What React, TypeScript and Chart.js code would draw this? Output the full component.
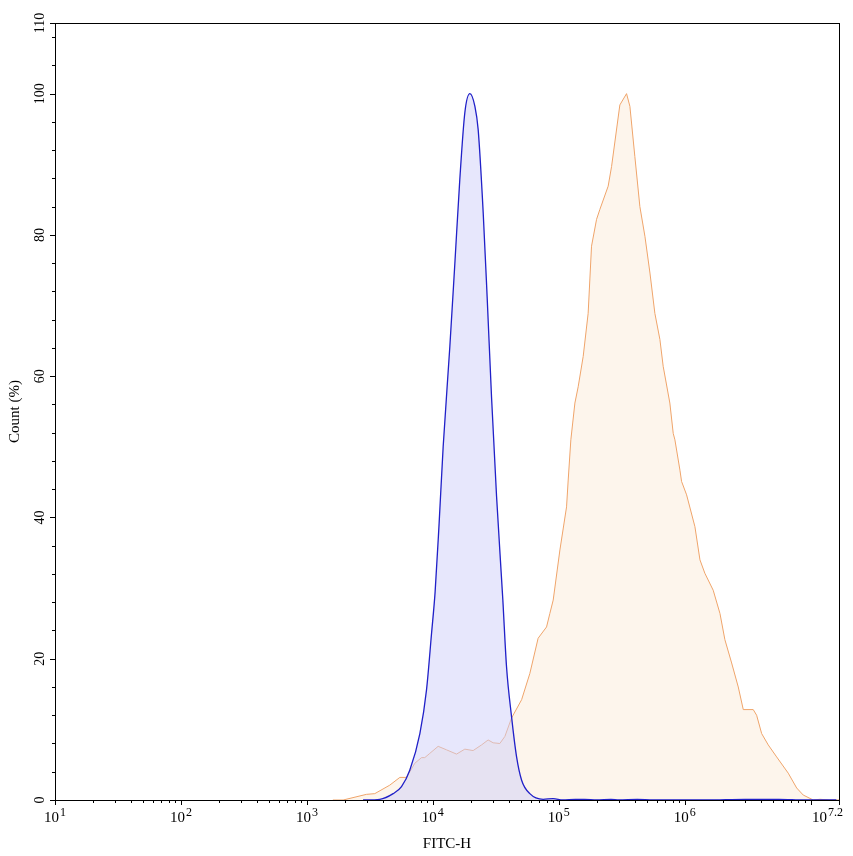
import React, { useEffect, useRef } from 'react';
import { Chart, ChartConfiguration, Plugin, registerables } from 'chart.js';

Chart.register(...registerables);

// FITC-H channel values (linear units) and count (%)
const blueX = [
  2793, 3793, 4840, 5640, 6560, 7890, 8910, 9770, 10430, 11220, 12080, 13650,
  14960, 16370, 17950, 19680, 21580, 22910, 25120, 26980, 29240, 32060, 35970,
  38460, 42170, 46240, 50700, 58900, 75160, 90300, 107900, 135000, 160000,
  200000, 260000, 300000, 420000, 560000, 800000, 1500000, 3000000, 3800000,
  4600000, 5600000, 9000000, 16000000,
];
const blueY = [
  0, 0.1, 0.9, 1.9, 4.2, 9.4, 15.6, 23.6, 29.5, 39.2, 50, 64.2,
  76, 87.8, 97.3, 100, 98.2, 94.9, 83.1, 71.3, 57.1, 43, 28.3,
  18.9, 11.8, 6.1, 2.8, 0.9, 0.1, 0.2, 0, 0.1, 0.1,
  0, 0.1, 0, 0.1, 0, 0, 0, 0.1, 0.1,
  0.1, 0.1, 0, 0,
];

const orangeX = [
  1607, 1940, 2972, 3460, 4550, 5470, 6180, 7190, 8130, 8630, 9460, 11020,
  12850, 15420, 17950, 20890, 24380, 27480, 30130, 34040, 37330, 42170, 50700,
  58900, 68550, 79980, 84920, 90300, 102100, 115300, 118800, 124700, 134300,
  142600, 156300, 171100, 182000, 199500, 211900, 246700, 262600, 305500,
  345300, 367000, 401800, 440600, 483100, 529700, 579400, 635300, 674500,
  762100, 810500, 835700, 916200, 944100, 1035000, 1205000, 1321000, 1445000,
  1683000, 1905000, 2084000, 2358000, 2661000, 2917000, 3499000, 3724000,
  4083000, 4603000, 5370000, 6637000, 7745000, 8730000, 10490000, 11860000,
  14220000, 16790000,
];
const orangeY = [
  0, 0, 0.8, 0.9, 2.1, 3.2, 3.2, 5.2, 6, 6, 6.6, 7.6,
  7.1, 6.5, 7.2, 7, 7.8, 8.5, 8.1, 8, 9, 11.6, 14.2,
  17.9, 22.9, 24.5, 26.4, 28.3, 35.4, 41.5, 45.3, 51, 56.2,
  58.5, 62.8, 68.9, 78.4, 82.2, 83.6, 86.9, 89.7, 98.4,
  100, 98.2, 91.1, 84, 79.8, 74.6, 68.9, 65.2, 61.4,
  56.2, 51.9, 51, 46.7, 45.1, 43.2, 38.7, 34, 32.1,
  29.7, 26.4, 22.7, 19.4, 16, 12.8, 12.8, 12,
  9.4, 7.8, 6.1, 3.8, 1.7, 0.7, 0, 0.1,
  0, 0,
];

const X_MIN = 10;
const X_MAX = 16788040; // 10^7.225
const xLabelValues = [10, 100, 1000, 10000, 100000, 1000000, X_MAX];
const xLabelExponents = ['1', '2', '3', '4', '5', '6', '7.2'];
const yMajorTicks = [0, 20, 40, 60, 80, 100, 110];
const yMinorTicks = [
  4, 8, 12, 16, 24, 28, 32, 36, 44, 48, 52, 56, 64, 68, 72, 76, 84, 88, 92, 96,
  104, 108,
];

const SERIF = '"Liberation Serif", "Times New Roman", serif';

const axesPlugin: Plugin<'line'> = {
  id: 'flowAxes',
  afterDatasetsDraw(chart) {
    const { ctx, chartArea: a } = chart;
    const xs = chart.scales.x;
    const ys = chart.scales.y;
    ctx.save();
    ctx.strokeStyle = '#000';
    ctx.lineWidth = 1;
    ctx.strokeRect(a.left + 0.5, a.top + 0.5, a.right - a.left, a.bottom - a.top);

    // x ticks: decades long, 2..9 short
    ctx.beginPath();
    for (let d = 10; d <= X_MAX; d *= 10) {
      for (let m = 1; m <= 9; m++) {
        const v = d * m;
        if (v > X_MAX) break;
        const px = Math.round(xs.getPixelForValue(v)) + 0.5;
        ctx.moveTo(px, a.bottom);
        ctx.lineTo(px, a.bottom + (m === 1 ? 5 : 3));
      }
    }
    const pxEnd = Math.round(xs.getPixelForValue(X_MAX)) + 0.5;
    ctx.moveTo(pxEnd, a.bottom);
    ctx.lineTo(pxEnd, a.bottom + 5);

    // y ticks
    yMajorTicks.forEach((v) => {
      const py = Math.round(ys.getPixelForValue(v)) + 0.5;
      ctx.moveTo(a.left, py);
      ctx.lineTo(a.left - 5, py);
    });
    yMinorTicks.forEach((v) => {
      const py = Math.round(ys.getPixelForValue(v)) + 0.5;
      ctx.moveTo(a.left, py);
      ctx.lineTo(a.left - 3, py);
    });
    ctx.stroke();

    ctx.fillStyle = '#000';
    ctx.textBaseline = 'alphabetic';

    // x labels, 10 with a raised exponent
    xLabelValues.forEach((v, i) => {
      const px = xs.getPixelForValue(v);
      const exp = xLabelExponents[i];
      ctx.font = `15px ${SERIF}`;
      const wBase = ctx.measureText('10').width;
      ctx.font = `12px ${SERIF}`;
      const wExp = ctx.measureText(exp).width;
      const total = wBase + 1 + wExp;
      let left = px - total / 2;
      if (i === xLabelValues.length - 1) left = px + 4 - total;
      ctx.textAlign = 'left';
      ctx.font = `15px ${SERIF}`;
      ctx.fillText('10', left, a.bottom + 22);
      ctx.font = `12px ${SERIF}`;
      ctx.fillText(exp, left + wBase + 1, a.bottom + 16);
    });

    // y labels, rotated
    ctx.font = `14px ${SERIF}`;
    ctx.textAlign = 'center';
    ctx.textBaseline = 'middle';
    yMajorTicks.forEach((v) => {
      const py = ys.getPixelForValue(v);
      ctx.save();
      ctx.translate(40, py);
      ctx.rotate(-Math.PI / 2);
      ctx.fillText(String(v), 0, 0);
      ctx.restore();
    });

    // axis titles
    ctx.font = `15px ${SERIF}`;
    ctx.textBaseline = 'alphabetic';
    ctx.fillText('FITC-H', (a.left + a.right) / 2, a.bottom + 48);
    ctx.save();
    ctx.translate(19, (a.top + a.bottom) / 2);
    ctx.rotate(-Math.PI / 2);
    ctx.fillText('Count (%)', 0, 0);
    ctx.restore();

    ctx.restore();
  },
};

const App = () => {
  const ref = useRef<HTMLCanvasElement | null>(null);
  const chartRef = useRef<Chart<'line'> | null>(null);

  useEffect(() => {
    const canvas = ref.current;
    if (!canvas) return;

    const config: ChartConfiguration<'line'> = {
      type: 'line',
      data: {
        datasets: [
          {
            label: 'Blue',
            data: blueX.map((x, i) => ({ x, y: blueY[i] })),
            borderColor: '#2020c8',
            borderWidth: 1.3,
            backgroundColor: 'rgba(208, 208, 250, 0.5)',
            fill: 'origin',
            tension: 0.35,
            cubicInterpolationMode: 'monotone',
          },
          {
            label: 'Orange',
            data: orangeX.map((x, i) => ({ x, y: orangeY[i] })),
            borderColor: '#efa46a',
            borderWidth: 1,
            backgroundColor: 'rgba(252, 236, 220, 0.55)',
            fill: 'origin',
            tension: 0,
          },
        ],
      },
      options: {
        animation: false,
        responsive: false,
        devicePixelRatio: 1,
        layout: { padding: { left: 55, right: 14, top: 23, bottom: 56 } },
        elements: { point: { radius: 0, hoverRadius: 0 } },
        plugins: { legend: { display: false }, tooltip: { enabled: false } },
        scales: {
          x: { type: 'logarithmic', min: X_MIN, max: X_MAX, display: false },
          y: { type: 'linear', min: 0, max: 110, display: false },
        },
      },
      plugins: [axesPlugin],
    };

    chartRef.current?.destroy();
    chartRef.current = new Chart(canvas, config);

    return () => {
      chartRef.current?.destroy();
      chartRef.current = null;
    };
  }, []);

  return (
    <div style={{ position: 'absolute', left: 0, top: 0, width: 853, height: 856, background: '#fff' }}>
      <canvas ref={ref} width={853} height={856}></canvas>
    </div>
  );
};

export default App;
